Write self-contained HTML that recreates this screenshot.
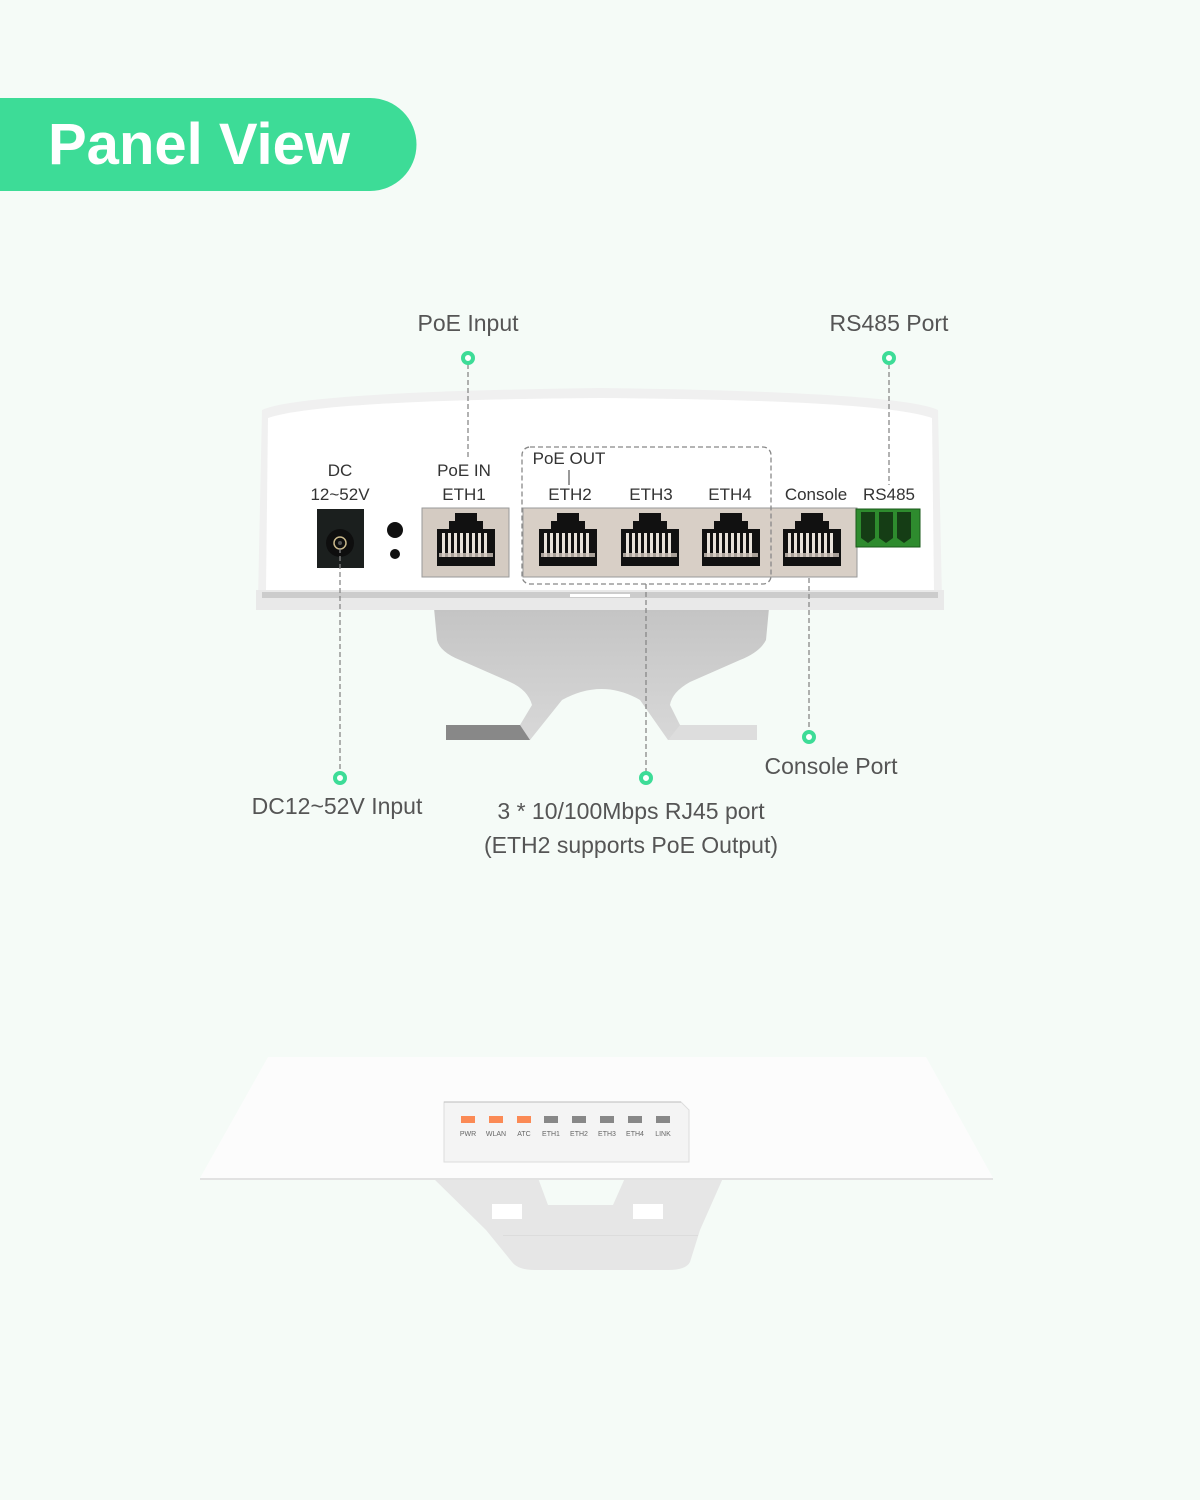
<!DOCTYPE html>
<html><head><meta charset="utf-8"><style>
html,body{margin:0;padding:0;background:#f5fbf7;}
svg{display:block}
text{font-family:"Liberation Sans",sans-serif;}
</style></head><body>
<svg width="1200" height="1500" viewBox="0 0 1200 1500" xmlns="http://www.w3.org/2000/svg">
<defs>
<linearGradient id="br" x1="0" y1="0" x2="0" y2="1"><stop offset="0" stop-color="#c4c4c4"/><stop offset="1" stop-color="#d8d8d8"/></linearGradient>
<g id="jack">
<rect x="-11" y="0" width="22" height="9" fill="#111"/>
<rect x="-17" y="8" width="34" height="9" fill="#111"/>
<rect x="-29" y="16" width="58" height="37" fill="#111"/>
<g fill="#e8e2da">
<rect x="-24" y="20" width="3" height="24"/><rect x="-18" y="20" width="3" height="24"/><rect x="-12" y="20" width="3" height="24"/><rect x="-6" y="20" width="3" height="24"/><rect x="0" y="20" width="3" height="24"/><rect x="6" y="20" width="3" height="24"/><rect x="12" y="20" width="3" height="24"/><rect x="18" y="20" width="3" height="24"/>
</g>
<rect x="-27" y="40" width="54" height="4" fill="#cfc6bb" opacity="0.8"/>
</g>
</defs>
<rect width="1200" height="1500" fill="#f5fbf7"/>
<path d="M0 98 H370 A46.5 46.5 0 0 1 370 191 H0 Z" fill="#3ddc97"/>
<text x="48" y="164" font-size="58" font-weight="bold" fill="#fff">Panel View</text>

<g font-size="23" fill="#555" text-anchor="middle">
<text x="468" y="331">PoE Input</text>
<text x="889" y="331">RS485 Port</text>
<text x="337" y="814">DC12~52V Input</text>
<text x="831" y="774">Console Port</text>
<text x="631" y="819">3 * 10/100Mbps RJ45 port</text>
<text x="631" y="853">(ETH2 supports PoE Output)</text>
</g>

<path d="M434 608 H769 L766 640 Q760 652 740 660 L690 682 Q672 692 670 705 L680 725 H757 L757 740 H668 L640 700 Q602 678 562 700 L530 740 H446 V725 H520 L532 705 Q528 690 510 682 L460 660 Q440 652 437 640 Z" fill="url(#br)"/>
<path d="M446 725 H520 L530 740 H446 Z" fill="#888"/>
<path d="M680 725 H757 V740 H668 Z" fill="#ddd"/>

<path d="M262 410 Q300 392 600 388 Q900 392 938 410 L942 600 H258 Z" fill="#f0f0f0"/>
<path d="M268 418 Q320 400 600 398 Q880 400 932 418 L934 592 H266 Z" fill="#fff"/>
<rect x="256" y="590" width="688" height="20" fill="#e9e9e9"/>
<rect x="262" y="592" width="676" height="6" fill="#ccc"/>
<rect x="570" y="594" width="60" height="3" fill="#fff"/>

<g font-size="17" fill="#333" text-anchor="middle">
<text x="340" y="476">DC</text>
<text x="340" y="500">12~52V</text>
<text x="464" y="476">PoE IN</text>
<text x="464" y="500">ETH1</text>
<text x="569" y="464">PoE OUT</text>
<text x="570" y="500">ETH2</text>
<text x="651" y="500">ETH3</text>
<text x="730" y="500">ETH4</text>
<text x="816" y="500">Console</text>
<text x="889" y="500">RS485</text>
</g>
<line x1="569" y1="470" x2="569" y2="485" stroke="#333"/>

<rect x="317" y="509" width="47" height="59" fill="#1b1f1e"/>
<circle cx="340" cy="543" r="14" fill="#0e0e0e"/>
<circle cx="340" cy="543" r="6" fill="none" stroke="#c9b88a" stroke-width="1.5"/>
<circle cx="340" cy="543" r="2" fill="#555"/>
<circle cx="395" cy="530" r="8" fill="#111"/>
<circle cx="395" cy="554" r="5" fill="#111"/>

<rect x="422" y="508" width="87" height="69" fill="#d4cbc2" stroke="#999" stroke-width="1"/>
<rect x="523" y="508" width="334" height="69" fill="#d8cfc6" stroke="#999" stroke-width="1"/>
<use href="#jack" transform="translate(466,513)"/>
<use href="#jack" transform="translate(568,513)"/>
<use href="#jack" transform="translate(650,513)"/>
<use href="#jack" transform="translate(731,513)"/>
<use href="#jack" transform="translate(812,513)"/>
<rect x="856" y="509" width="64" height="38" fill="#2e8b2e" stroke="#1a5a1a"/>
<g fill="#153d15">
<path d="M861 512 h14 v26 l-7 5 l-7 -5 z"/><path d="M879 512 h14 v26 l-7 5 l-7 -5 z"/><path d="M897 512 h14 v26 l-7 5 l-7 -5 z"/>
</g>

<rect x="522" y="447" width="249" height="137" rx="8" fill="none" stroke="#888" stroke-width="1.3" stroke-dasharray="5,3"/>

<g stroke="#888" stroke-width="1.3" stroke-dasharray="5,3" fill="none">
<line x1="468" y1="364" x2="468" y2="457"/>
<line x1="889" y1="364" x2="889" y2="485"/>
<line x1="340" y1="548" x2="340" y2="772"/>
<line x1="646" y1="584" x2="646" y2="772"/>
<line x1="809" y1="578" x2="809" y2="731"/>
</g>
<g fill="#fff" stroke="#3ddc97" stroke-width="4">
<circle cx="468" cy="358" r="5"/>
<circle cx="889" cy="358" r="5"/>
<circle cx="340" cy="778" r="5"/>
<circle cx="646" cy="778" r="5"/>
<circle cx="809" cy="737" r="5"/>
</g>

<!-- bottom device -->
<path d="M433 1178 H723 L700 1230 L690 1262 Q686 1270 668 1270 H535 Q518 1270 512 1262 L486 1230 Z" fill="#e6e6e6"/>
<path d="M538 1178 H625 L613 1205 H548 Z" fill="#f5fbf7"/>
<rect x="492" y="1204" width="30" height="15" fill="#fff"/>
<rect x="633" y="1204" width="30" height="15" fill="#fff"/>
<rect x="385" y="1235" width="6" height="1" fill="none"/>
<path d="M384 1235 H0 Z" fill="none"/>
<rect x="503" y="1235" width="195" height="1" fill="#dcdcdc"/>
<rect x="410" y="1260" width="0" height="0" fill="none"/>
<path d="M412 1262 L412 1262 Z" fill="none"/>
<rect x="412" y="1262" width="0" height="0"/>
<rect x="412" y="1262" width="0" height="0"/>
<rect x="410" y="1262" width="0" height="0"/>
<rect x="410" y="1262" width="0" height="0"/>
<path d="M410 1262 Z" fill="none"/>
<rect x="410" y="1262" width="0" height="0"/>
<rect x="410" y="1262" width="0" height="0"/>
<rect x="410" y="1262" width="0" height="0"/>
<rect x="410" y="1262" width="0" height="0"/>
<rect x="410" y="1262" width="0" height="0"/>
<rect x="410" y="1262" width="0" height="0"/>
<rect x="410" y="1262" width="0" height="0"/>
<rect x="410" y="1262" width="0" height="0"/>
<rect x="410" y="1262" width="0" height="0"/>
<rect x="410" y="1262" width="0" height="0"/>
<rect x="410" y="1262" width="0" height="0"/>
<rect x="410" y="1262" width="0" height="0"/>
<rect x="410" y="1262" width="0" height="0"/>
<rect x="410" y="1262" width="0" height="0"/>
<rect x="632" y="1261" width="0" height="0"/>
<rect x="632" y="1261" width="0" height="0"/>
<path d="M632 1261 H634 Z" fill="none"/>
<path d="M268 1057 H926 L993 1178 H200 Z" fill="#fcfcfc"/>
<line x1="200" y1="1179" x2="993" y2="1179" stroke="#e2e2e2" stroke-width="2"/>
<path d="M444 1102 H681 L689 1110 V1162 H444 Z" fill="#f4f4f4" stroke="#ddd"/>
<line x1="444" y1="1102" x2="681" y2="1102" stroke="#bbb"/>
<g>
<rect x="461" y="1116" width="14" height="7" fill="#fb8a55"/>
<rect x="489" y="1116" width="14" height="7" fill="#fb8a55"/>
<rect x="517" y="1116" width="14" height="7" fill="#fb8a55"/>
<rect x="544" y="1116" width="14" height="7" fill="#888"/>
<rect x="572" y="1116" width="14" height="7" fill="#888"/>
<rect x="600" y="1116" width="14" height="7" fill="#888"/>
<rect x="628" y="1116" width="14" height="7" fill="#888"/>
<rect x="656" y="1116" width="14" height="7" fill="#888"/>
</g>
<g font-size="7" fill="#666" text-anchor="middle">
<text x="468" y="1136">PWR</text><text x="496" y="1136">WLAN</text><text x="524" y="1136">ATC</text><text x="551" y="1136">ETH1</text><text x="579" y="1136">ETH2</text><text x="607" y="1136">ETH3</text><text x="635" y="1136">ETH4</text><text x="663" y="1136">LINK</text>
</g>
</svg>
</body></html>
